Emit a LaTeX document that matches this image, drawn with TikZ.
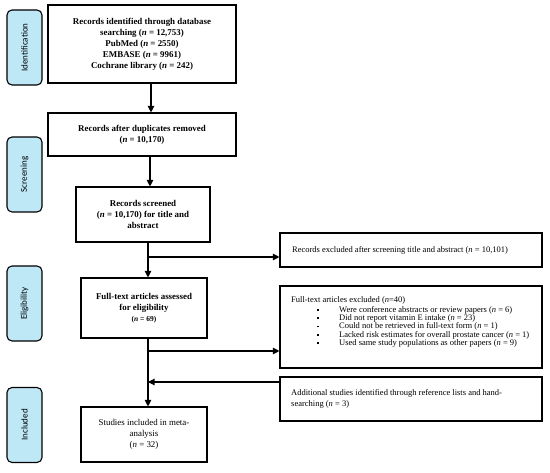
\documentclass[tikz,border=0pt]{standalone}
\usepackage{fontspec}
\setmainfont{Liberation Serif}
\newfontfamily\stagefont{Carlito}
\usetikzlibrary{arrows.meta}
\definecolor{stagefill}{HTML}{BEE8F6}
\newcommand{\blt}{\makebox[22pt][l]{\raisebox{1.5pt}{\rule{1.6pt}{1.6pt}}}}
\begin{document}
\begin{tikzpicture}[x=1pt,y=-1pt,
  box/.style={draw,line width=1.1pt,inner sep=2pt,align=center,font=\fontsize{8.9}{11}\selectfont\bfseries},
  rbox/.style={draw,line width=1.1pt,inner sep=0pt},
  rtext/.style={inner sep=0pt,anchor=north west,align=left,font=\fontsize{8.5}{8.3}\selectfont},
  stage/.style={draw,line width=1.1pt,rounded corners=5pt,fill=stagefill,minimum width=35pt,minimum height=75pt},
  stagetext/.style={rotate=90,font=\fontsize{9}{10}\stagefont},
  arr/.style={line width=1.1pt,-{Triangle[length=6.5pt,width=6.5pt]}},
  ln/.style={line width=1.1pt}]
\useasboundingbox (0,0) rectangle (550,473);
% stage labels
\node[stage] (s1) at (24.5,47.5) {};
\node[stagetext] (s1t) at (s1.center) {Identification};
\node[stage] (s2) at (24.5,174.5) {};
\node[stagetext] (s2t) at (s2.center) {Screening};
\node[stage] (s3) at (24.5,303.5) {};
\node[stagetext] (s3t) at (s3.center) {Eligibility};
\node[stage] (s4) at (24.5,425) {};
\node[stagetext] (s4t) at (s4.center) {Included};
% main boxes
\node[box,minimum width=188pt,minimum height=78pt] (b1) at (142,44)
 {Records identified through database\\searching (\textit{n} = 12,753)\\PubMed (\textit{n} = 2550)\\EMBASE (\textit{n} = 9961)\\Cochrane library (\textit{n} = 242)};
\node[box,minimum width=188pt,minimum height=43pt] (b2) at (142,134.5)
 {Records after duplicates removed\\(\textit{n} = 10,170)};
\node[box,minimum width=134pt,minimum height=55pt] (b3) at (143,214.5)
 {Records screened\\(\textit{n} = 10,170) for title and\\abstract};
\node[box,minimum width=126pt,minimum height=60pt] (b4) at (144,308)
 {Full-text articles assessed\\for eligibility\\{\fontsize{7.5}{8}\selectfont(\textit{n} = 69)}};
\node[box,minimum width=126pt,minimum height=55pt,font=\fontsize{8.9}{11}\selectfont] (b5) at (144,434.5)
 {Studies included in meta-\\analysis\\(\textit{n} = 32)};
% right boxes
\node[rbox,minimum width=262pt,minimum height=34pt] (r1) at (411,250) {};
\node[rtext,anchor=west] (r1t) at (292,250) {Records excluded after screening title and abstract (\textit{n} = 10,101)};
\node[rbox,minimum width=262pt,minimum height=82pt] (r2) at (411,327) {};
\node[rtext] (r2h) at (291,296.5) {Full-text articles excluded (\textit{n}=40)};
\node[rtext] (r2l) at (317,306) {%
\blt Were conference abstracts or review papers (\textit{n} = 6)\\
\blt Did not report vitamin E intake (\textit{n} = 23)\\
\blt Could not be retrieved in full-text form (\textit{n} = 1)\\
\blt Lacked risk estimates for overall prostate cancer (\textit{n} = 1)\\
\blt Used same study populations as other papers (\textit{n} = 9)};
\node[rbox,minimum width=262pt,minimum height=44pt] (r3) at (411,399) {};
\node[rtext,font=\fontsize{8.5}{11}\selectfont] (r3t) at (291,389.5) {Additional studies identified through reference lists and hand-\\searching (\textit{n} = 3)};
% connector coordinates
\coordinate (xa) at (151,0);
\coordinate (xb) at (150,0);
\coordinate (xc) at (148,0);
\coordinate (j1) at (148,257);
\coordinate (j2) at (148,351);
\coordinate (j3) at (148,382);
% connectors
\draw[arr] (b1.south -| xa) -- (b2.north -| xa);
\draw[arr] (b2.south -| xb) -- (b3.north -| xb);
\draw[arr] (b3.south -| xc) -- (b4.north -| xc);
\draw[arr] (j1) -- (j1 -| r1.west);
\draw[arr] (b4.south -| xc) -- (b5.north -| xc);
\draw[arr] (j2) -- (j2 -| r2.west);
\draw[arr] (j3 -| r3.west) -- (j3);
\end{tikzpicture}
\end{document}
